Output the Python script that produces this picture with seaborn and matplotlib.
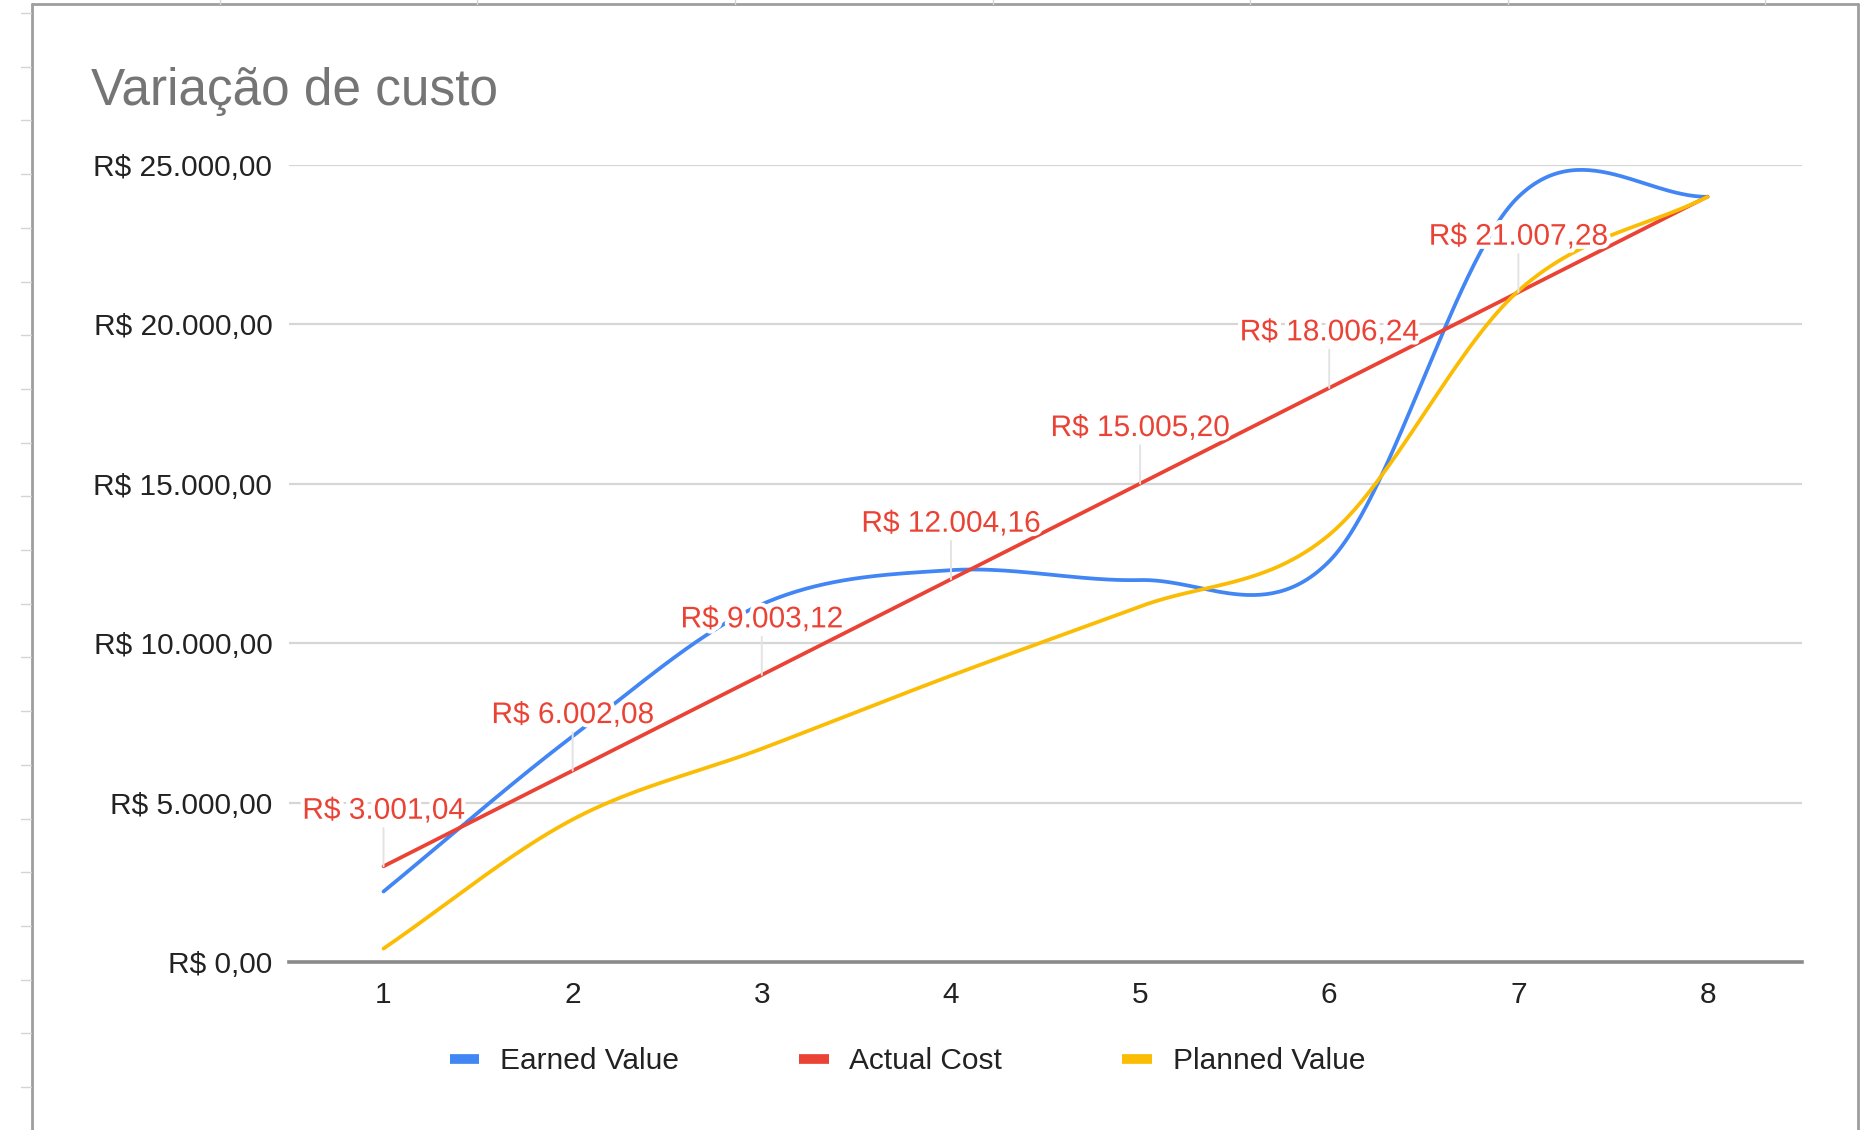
import matplotlib
matplotlib.use('Agg')
import matplotlib.pyplot as plt
import matplotlib.patheffects as pe
from matplotlib.lines import Line2D
from matplotlib.ticker import FuncFormatter
import seaborn as sns
import numpy as np
import pandas as pd

# values
periods = [1, 2, 3, 4, 5, 6, 7, 8]
earned_value = [2210, 7080, 11220, 12290, 11980, 12570, 24000, 24000]
actual_cost = [3001.04, 6002.08, 9003.12, 12004.16, 15005.20, 18006.24, 21007.28, 24008.32]
planned_value = [420, 4470, 6690, 8980, 11150, 13400, 21050, 24000]

series_names = ['Earned Value', 'Actual Cost', 'Planned Value']
series_colors = ['#4285F4', '#EA4335', '#FBBC04']
y_ticks = [0, 5000, 10000, 15000, 20000, 25000]


def brl(v):
    s = f"{v:,.2f}".replace(',', 'X').replace('.', ',').replace('X', '.')
    return 'R$ ' + s


def smooth(x, y, n=60):
    # catmull-rom style curve through the points, like the sheets "smooth" option
    x = np.asarray(x, float)
    y = np.asarray(y, float)
    m = np.zeros_like(y)
    m[1:-1] = (y[2:] - y[:-2]) / (x[2:] - x[:-2])
    m[0] = (y[1] - y[0]) / (x[1] - x[0])
    m[-1] = (y[-1] - y[-2]) / (x[-1] - x[-2])
    xs, ys = [], []
    for i in range(len(x) - 1):
        h = x[i + 1] - x[i]
        t = np.linspace(0, 1, n, endpoint=(i == len(x) - 2))
        h00 = 2 * t**3 - 3 * t**2 + 1
        h10 = t**3 - 2 * t**2 + t
        h01 = -2 * t**3 + 3 * t**2
        h11 = t**3 - t**2
        xs.append(x[i] + t * h)
        ys.append(h00 * y[i] + h10 * h * m[i] + h01 * y[i + 1] + h11 * h * m[i + 1])
    return np.concatenate(xs), np.concatenate(ys)


frames = []
for name, vals in zip(series_names, [earned_value, actual_cost, planned_value]):
    sx, sy = smooth(periods, vals)
    frames.append(pd.DataFrame({'periodo': sx, 'valor': sy, 'serie': name}))
df = pd.concat(frames, ignore_index=True)

sns.set_style('white')
plt.rcParams['font.family'] = ['Liberation Sans', 'DejaVu Sans']

fig = plt.figure(figsize=(18.63, 11.30), dpi=100)
ax = fig.add_axes([0.1551, 0.1487, 0.8122, 0.7053])

sns.lineplot(data=df, x='periodo', y='valor', hue='serie', hue_order=series_names,
             palette=series_colors, linewidth=2.7, sort=False, estimator=None,
             legend=False, ax=ax, clip_on=False)

# data labels on the actual cost series (all but the last point)
for px, py in zip(periods[:-1], actual_cost[:-1]):
    ax.annotate(brl(py), xy=(px, py), xytext=(0, 40), textcoords='offset points',
                ha='center', va='center', fontsize=21.5, color='#EA4335', zorder=10,
                path_effects=[pe.withStroke(linewidth=6, foreground='white')],
                arrowprops=dict(arrowstyle='-', color='#e3e3e3', lw=1.4,
                                shrinkA=0, shrinkB=0))

ax.set_xlim(0.5, 8.5)
ax.set_ylim(0, 25000)
ax.set_xticks(periods)
ax.set_yticks(y_ticks)
ax.yaxis.set_major_formatter(FuncFormatter(lambda v, p: brl(v)))
ax.tick_params(axis='y', length=0, pad=12, labelsize=21.5, labelcolor='#222222')
ax.tick_params(axis='x', length=0, pad=14, labelsize=21.5, labelcolor='#222222')
ax.set_xlabel('')
ax.set_ylabel('')
ax.grid(axis='y', color='#d6d6d6', linewidth=1.6)
ax.set_axisbelow(True)
for side in ['left', 'right', 'top']:
    ax.spines[side].set_visible(False)
ax.spines['bottom'].set_color('#8a8a8a')
ax.spines['bottom'].set_linewidth(2.6)

fig.text(0.0488, 0.907, 'Variação de custo', fontsize=37, color='#757575',
         ha='left', va='baseline')

handles = [Line2D([0], [0], color=c, lw=7, solid_capstyle='butt') for c in series_colors]
fig.legend(handles, series_names, loc='center', bbox_to_anchor=(0.487, 0.061),
           ncol=3, frameon=False, fontsize=21.5, handlelength=1.0,
           handletextpad=0.7, columnspacing=4.0, labelcolor='#222222')

# chart border and a hint of the sheet behind it
W, H = 1863, 1130
border = dict(color='#9e9e9e', lw=2, transform=fig.transFigure)
fig.add_artist(Line2D([32 / W, 32 / W], [0, 1 - 4 / H], **border))
fig.add_artist(Line2D([32 / W, 1858 / W], [1 - 4 / H, 1 - 4 / H], **border))
fig.add_artist(Line2D([1858 / W, 1858 / W], [0, 1 - 4 / H], **border))
sheet = dict(color='#d4d4d4', lw=1, transform=fig.transFigure)
for cx in np.arange(220, 1860, 257.5):
    fig.add_artist(Line2D([cx / W, cx / W], [1 - 4 / H, 1], **sheet))
for ry in np.arange(13, 1130, 53.7):
    fig.add_artist(Line2D([21 / W, 31 / W], [1 - ry / H, 1 - ry / H], **sheet))

fig.savefig('out.png', dpi=100)
